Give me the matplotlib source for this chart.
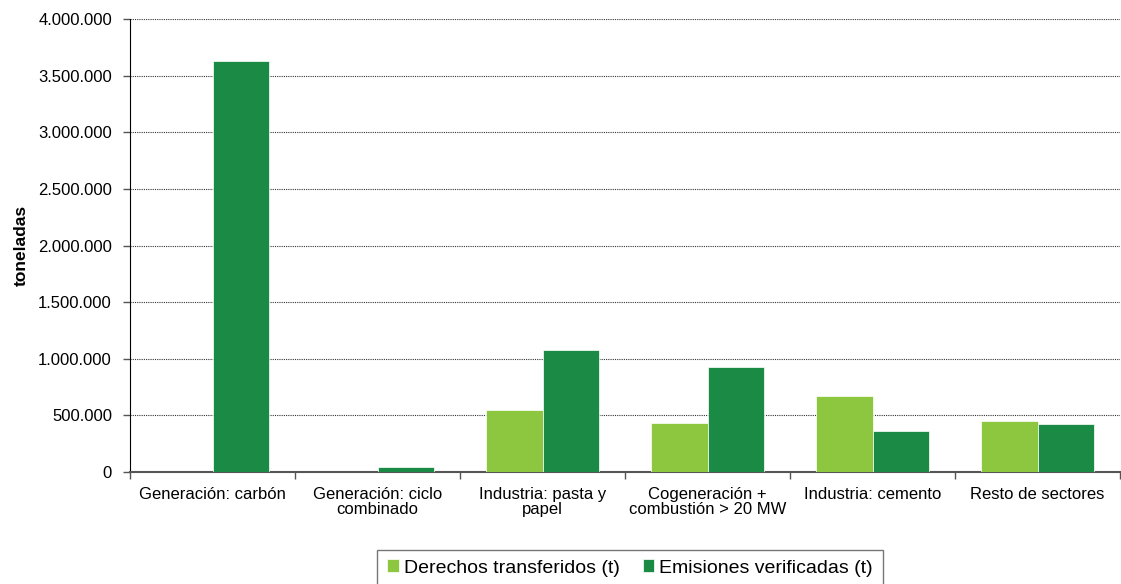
import numpy as np
import matplotlib
matplotlib.use("Agg")
import matplotlib.pyplot as plt
from matplotlib.ticker import FuncFormatter

plt.rcParams['font.family'] = ['Liberation Sans', 'DejaVu Sans']

# datos (toneladas)
sectores = ["Generación: carbón", "Generación: ciclo\ncombinado", "Industria: pasta y\npapel",
            "Cogeneración +\ncombustión > 20 MW", "Industria: cemento", "Resto de sectores"]
derechos = [0, 0, 547000, 433000, 671000, 450000]
emisiones = [3629000, 44000, 1077000, 927000, 362000, 424000]

verde_claro = "#8DC63F"
verde_oscuro = "#1A8A44"

fig = plt.figure(figsize=(11.21, 5.84), dpi=100)
ax = fig.add_axes([130/1121, 1 - 472/584, (1120-130)/1121, (472-19)/584])

x = np.arange(len(sectores))
w = 0.345
ax.bar(x - w/2, derechos, w, color=verde_claro, edgecolor="white", linewidth=0.5,
       label="Derechos transferidos (t)", zorder=3)
ax.bar(x + w/2, emisiones, w, color=verde_oscuro, edgecolor="white", linewidth=0.5,
       label="Emisiones verificadas (t)", zorder=3)

ax.set_xlim(-0.5, len(sectores) - 0.5)
ax.set_ylim(0, 4000000)
ax.set_yticks(np.arange(0, 4000001, 500000))
ax.yaxis.set_major_formatter(FuncFormatter(lambda v, p: f"{int(v):,}".replace(",", ".")))
ax.yaxis.grid(True, linestyle=(0, (1, 1)), color="#333333", linewidth=0.8, zorder=0)
ax.set_axisbelow(True)

# ticks del eje x entre categorias
ax.set_xticks(np.arange(-0.5, len(sectores)), minor=False)
ax.set_xticklabels([])
ax.set_xticks(x, minor=True)
ax.set_xticklabels(sectores, minor=True, fontsize=12, linespacing=1.0)
ax.tick_params(axis="x", which="minor", length=0, pad=11)
ax.tick_params(axis="x", which="major", length=5, width=1, color="#555555")
ax.tick_params(axis="y", labelsize=12, length=5, width=1, color="#555555", pad=8)

for s in ["top", "right"]:
    ax.spines[s].set_visible(False)
ax.spines["left"].set_color("black")
ax.spines["bottom"].set_color("#555555")
ax.spines["bottom"].set_linewidth(1.5)

ax.set_ylabel("toneladas", fontsize=12.5, fontweight="bold", labelpad=7)

leg = fig.legend(loc="center", bbox_to_anchor=(630/1121, 1 - 568/584), ncol=2,
                 fontsize=14, frameon=True, fancybox=False, edgecolor="#555555",
                 handlelength=0.6, handleheight=0.6, handletextpad=0.25, columnspacing=1.2,
                 borderpad=0.5)
leg.get_frame().set_linewidth(1.0)

fig.savefig("out.png", dpi=100)
